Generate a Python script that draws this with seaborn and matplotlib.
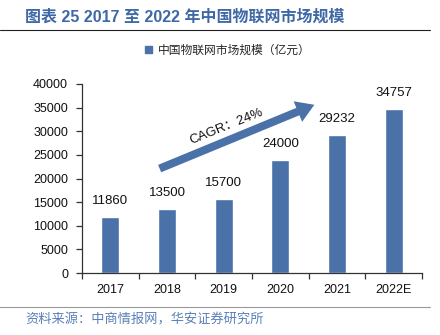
import matplotlib
matplotlib.use("Agg")
import matplotlib.pyplot as plt
import seaborn as sns
import numpy as np
import pandas as pd

years = ["2017", "2018", "2019", "2020", "2021", "2022E"]
values = [11860, 13500, 15700, 24000, 29232, 34757]
series_name = "中国物联网市场规模（亿元）"
title = "图表 25 2017 至 2022 年中国物联网市场规模"
source = "资料来源：中商情报网，华安证券研究所"
cagr = "CAGR：24%"

sns.set_theme(style="white")
fams = ["Liberation Sans", "Noto Sans CJK SC", "DejaVu Sans"]
plt.rcParams["font.family"] = fams

bar_color = "#4A72A8"
df = pd.DataFrame({"year": years, "value": values})

fig = plt.figure(figsize=(4.4, 3.35), dpi=100)
ax = fig.add_axes([82/440, 1-273/335, 340/440, 189/335])
sns.barplot(data=df, x="year", y="value", color=bar_color, width=0.32,
            saturation=1, ax=ax)
ax.set_xlim(-0.5, 5.5)
ax.set_ylim(0, 40000)
ax.set_yticks(np.arange(0, 40001, 5000))
ax.set_xlabel("")
ax.set_ylabel("")
for s in ["top", "right"]:
    ax.spines[s].set_visible(False)
for s in ["left", "bottom"]:
    ax.spines[s].set_color("#333333")
    ax.spines[s].set_linewidth(0.9)
ax.tick_params(axis="y", which="major", direction="out", length=4, width=0.9,
               color="#333333", left=True, labelsize=9, pad=6)
ax.tick_params(axis="x", which="major", length=0, labelsize=9, pad=8)
ax.set_xticks(np.arange(-0.5, 6, 1), minor=True)
ax.tick_params(axis="x", which="minor", direction="out", length=4, width=0.9,
               color="#333333", bottom=True)
for lab in ax.get_xticklabels() + ax.get_yticklabels():
    lab.set_color("#111111")

ax.bar_label(ax.containers[0], labels=[str(v) for v in values], padding=7,
             fontsize=9.5, color="#111111")

# CAGR arrow
ax.annotate("", xy=(3.6, 35600), xytext=(0.87, 22100),
            arrowprops=dict(arrowstyle="simple,head_length=0.8,head_width=1.0,tail_width=0.36",
                            color=bar_color, lw=0, mutation_scale=16,
                            shrinkA=0, shrinkB=0))
ax.text(2.05, 30900, cagr, rotation=22, fontsize=9.5, color="#111111",
        ha="center", va="center", rotation_mode="anchor")

# legend
fig.legend(handles=[plt.Rectangle((0, 0), 1, 1, color=bar_color)], labels=[series_name],
           loc="center", bbox_to_anchor=(228/440, 1-50/335), frameon=False,
           handlelength=0.6, handleheight=0.6, handletextpad=0.5,
           prop={"family": ["Noto Sans CJK SC"], "size": 8.5})

# title and lines
fig.text(25/440, 1-17/335, title, fontsize=11.5, fontweight="bold", color="#3F68A6",
         ha="left", va="center")
fig.add_artist(plt.Line2D([0, 430/440], [1-30/335, 1-30/335], color="#222222", lw=0.8))
fig.add_artist(plt.Line2D([0, 430/440], [1-307/335, 1-307/335], color="#999999", lw=0.8))
fig.text(25/440, 1-320/335, source, fontsize=9.5, color="#5A80B8", ha="left", va="center",
         family=["Noto Sans CJK SC"])

fig.savefig("out.png", dpi=100)
